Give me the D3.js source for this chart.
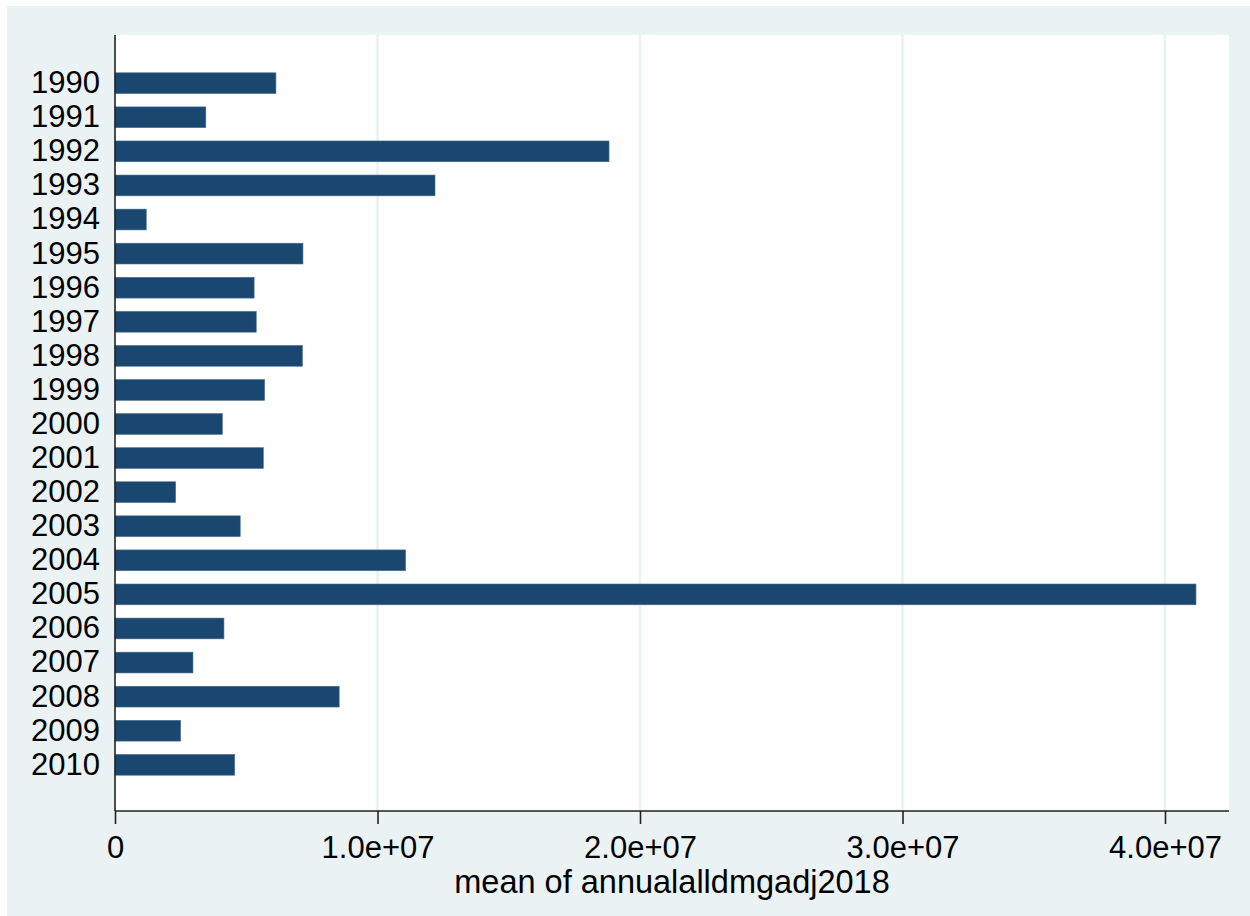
<!DOCTYPE html>
<html>
<head>
<meta charset="utf-8">
<script src="https://cdn.jsdelivr.net/npm/d3@7"></script>
<style>
  body { margin: 0; background: #ffffff; }
  svg { display: block; font-family: "Liberation Sans", Arial, sans-serif; }
</style>
</head>
<body>
<svg id="chart"></svg>
<script>
// years on the category axis, mean damage per year
const years = ["1990","1991","1992","1993","1994","1995","1996","1997","1998","1999",
               "2000","2001","2002","2003","2004","2005","2006","2007","2008","2009","2010"];
const meanDamage = [6.13e6, 3.46e6, 18.82e6, 12.19e6, 1.19e6, 7.16e6, 5.30e6, 5.38e6, 7.14e6, 5.70e6,
                    4.09e6, 5.65e6, 2.31e6, 4.77e6, 11.07e6, 41.18e6, 4.15e6, 2.97e6, 8.54e6, 2.50e6, 4.56e6];
const xTicks = [0, 1e7, 2e7, 3e7, 4e7];
const xTickLabels = ["0", "1.0e+07", "2.0e+07", "3.0e+07", "4.0e+07"];
const xTitle = "mean of annualalldmgadj2018";

function getConfig() {
  let width = 1250;
  let height = 916;
  // plot area inside the graph region
  let plot = { left: 115, right: 1229, top: 35, bottom: 811 };
  let container = d3.select("#chart")
    .attr("width", width)
    .attr("height", height);
  return { width, height, plot, container };
}

function getScales(config) {
  let { plot } = config;
  let xScale = d3.scaleLinear()
    .domain([0, 1e7])
    .range([plot.left, plot.left + 262.5]);
  let yScale = d3.scaleBand()
    .domain(years)
    .range([plot.top + 1, plot.bottom + 1])
    .paddingInner(0.39)
    .paddingOuter(1.08);
  return { xScale, yScale };
}

function drawChart() {
  let config = getConfig();
  let { xScale, yScale } = getScales(config);
  let { container, plot, width, height } = config;

  // graph region background
  container.append("rect")
    .attr("x", 7).attr("y", 6)
    .attr("width", width - 7).attr("height", height - 6)
    .style("fill", "#eaf2f3");

  // plot region
  container.append("rect")
    .attr("x", plot.left).attr("y", plot.top)
    .attr("width", plot.right - plot.left)
    .attr("height", plot.bottom - plot.top)
    .style("fill", "#ffffff");

  // grid lines
  container.selectAll(".grid")
    .data(xTicks.slice(1))
    .enter()
    .append("line")
      .attr("class", "grid")
      .attr("x1", d => xScale(d)).attr("x2", d => xScale(d))
      .attr("y1", plot.top).attr("y2", plot.bottom)
      .style("stroke", "#eaf2f3")
      .style("stroke-width", 2.5);

  // bars
  container.selectAll(".bar")
    .data(years)
    .enter()
    .append("rect")
      .attr("class", "bar")
      .attr("x", xScale(0))
      .attr("y", d => yScale(d))
      .attr("width", (d, i) => xScale(meanDamage[i]) - xScale(0))
      .attr("height", yScale.bandwidth())
      .style("fill", "#1a476f")
      .style("stroke", "#4a6f90")
      .style("stroke-width", 0.6);

  // x axis
  let xAxis = d3.axisBottom(xScale)
    .tickValues(xTicks)
    .tickFormat((d, i) => xTickLabels[i])
    .tickSize(13)
    .tickPadding(12)
    .tickSizeOuter(0);
  let gx = container.append("g")
    .attr("transform", `translate(0, ${plot.bottom})`)
    .call(xAxis);
  gx.select(".domain")
    .attr("d", `M${plot.left},0H${plot.right}`)
    .style("stroke", "#222")
    .style("stroke-width", 1.6);
  gx.selectAll(".tick line").style("stroke", "#222").style("stroke-width", 1.6);
  gx.selectAll(".tick text")
    .style("font-size", "31px")
    .style("font-family", "Liberation Sans, Arial, sans-serif")
    .style("fill", "#000");

  // y axis (no ticks)
  let yAxis = d3.axisLeft(yScale)
    .tickSize(0)
    .tickPadding(15);
  let gy = container.append("g")
    .attr("transform", `translate(${plot.left}, 0)`)
    .call(yAxis);
  gy.select(".domain")
    .attr("d", `M0,${plot.top}V${plot.bottom}`)
    .style("stroke", "#222")
    .style("stroke-width", 1.6);
  gy.selectAll(".tick text")
    .style("font-size", "31px")
    .style("font-family", "Liberation Sans, Arial, sans-serif")
    .style("fill", "#000");

  // x axis title
  container.append("text")
    .attr("x", (plot.left + plot.right) / 2)
    .attr("y", 893)
    .attr("text-anchor", "middle")
    .style("font-size", "32.5px")
    .style("fill", "#000")
    .text(xTitle);
}

drawChart();
</script>
</body>
</html>
